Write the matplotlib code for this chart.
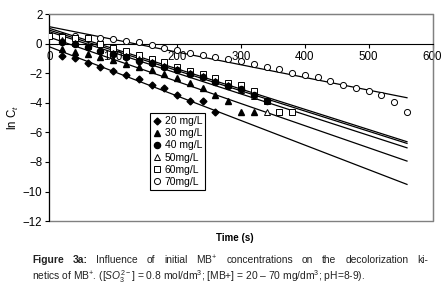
import matplotlib
matplotlib.use("Agg")
import matplotlib.pyplot as plt
import numpy as np
from matplotlib.patches import Rectangle

plt.rcParams['font.family'] = ['Liberation Sans', 'DejaVu Sans']
plt.rcParams['mathtext.fontset'] = 'custom'
plt.rcParams['mathtext.rm'] = 'Liberation Sans'
plt.rcParams['mathtext.it'] = 'Liberation Sans:italic'

# measured ln Ct vs time (s)
t20 = np.arange(20, 261, 20)
y20 = [-0.83, -0.98, -1.30, -1.57, -1.86, -2.11, -2.41, -2.79, -2.99, -3.47, -3.88, -3.88, -4.6]

t30 = np.arange(20, 321, 20)
y30 = [-0.38, -0.53, -0.69, -0.92, -1.10, -1.37, -1.59, -1.78, -2.05, -2.34, -2.68, -3.02,
       -3.47, -3.86, -4.6, -4.6]

t40 = np.arange(20, 341, 20)
y40 = [0.14, -0.04, -0.24, -0.47, -0.69, -0.92, -1.14, -1.32, -1.55, -1.78, -2.05, -2.27,
       -2.57, -2.86, -3.08, -3.47, -3.87]

t50 = np.arange(20, 341, 20)
y50 = [0.25, 0.05, -0.15, -0.40, -0.60, -0.85, -1.05, -1.25, -1.50, -1.70, -1.95, -2.20,
       -2.50, -2.80, -3.10, -3.50, -4.6]

t60 = np.arange(0, 381, 20)
y60 = [0.5, 0.45, 0.42, 0.42, 0.0, -0.28, -0.5, -0.75, -1.0, -1.25, -1.55, -1.82, -2.05,
       -2.34, -2.68, -2.79, -3.2, -3.87, -4.6, -4.6]

t70 = np.arange(0, 561, 20)
y70 = [0.53, 0.52, 0.5, 0.44, 0.42, 0.30, 0.21, 0.10, -0.08, -0.26, -0.42, -0.64, -0.76,
       -0.92, -1.05, -1.17, -1.37, -1.55, -1.71, -1.96, -2.11, -2.27, -2.50, -2.77, -2.97,
       -3.22, -3.49, -3.92, -4.6]

# linear fits (intercept, slope)
fit_b = [-0.20, 0.45, 0.82, 0.93, 1.05, 1.16]
fit_m = [-0.01664, -0.01498, -0.01404, -0.01370, -0.01371, -0.00859]

labels = ['20 mg/L', '30 mg/L', '40 mg/L', '50mg/L', '60mg/L', '70mg/L']

cap_bold = ['Figure', '3a:']
cap_words1 = ['Influence', 'of', 'initial', 'MB$^{+}$', 'concentrations', 'on', 'the',
              'decolorization', 'ki-']
cap_line2 = ('netics of MB$^{+}$. ([$\\mathit{SO_3^{2-}}$] = 0.8 mol/dm$^{3}$; [MB+] = 20 \u2013 70 '
             'mg/dm$^{3}$; pH=8-9).')

fig = plt.figure(figsize=(4.45, 2.92), dpi=100)
ax = fig.add_axes([0.111, 0.243, 0.861, 0.708])

tf = np.array([0, 560])
for b, m in zip(fit_b, fit_m):
    ax.plot(tf, b + m * tf, color='black', linewidth=0.9, zorder=2)

ms = 4.4
ax.plot(t70, y70, 'o', mfc='white', mec='black', mew=0.7, ms=ms, label=labels[5], zorder=3)
ax.plot(t60, y60, 's', mfc='white', mec='black', mew=0.7, ms=ms, label=labels[4], zorder=3)
ax.plot(t50, y50, '^', mfc='white', mec='black', mew=0.7, ms=ms, label=labels[3], zorder=3)
ax.plot(t40, y40, 'o', color='black', ms=ms, label=labels[2], zorder=4)
ax.plot(t30, y30, '^', color='black', ms=ms, label=labels[1], zorder=4)
ax.plot(t20, y20, 'D', color='black', ms=3.5, label=labels[0], zorder=4)

ax.set_xlim(0, 600)
ax.set_ylim(-12, 2)
ax.set_xticks(range(0, 601, 100))
ax.set_yticks(range(-12, 3, 2))
ax.tick_params(labelsize=8.3, length=3, width=0.8, pad=2)

ax.spines['bottom'].set_position(('data', 0))
ax.spines['top'].set_color('grey')
ax.spines['right'].set_color('grey')
ax.add_patch(Rectangle((0, 0), 1, 1, transform=ax.transAxes, fill=False,
                       edgecolor='grey', linewidth=1, zorder=0, clip_on=False))

ax.set_ylabel('ln C$_t$', fontsize=8.3, labelpad=1)
fig.text(0.527, 0.185, 'Time (s)', fontsize=7, weight='bold', ha='center', va='center')

handles, labs = ax.get_legend_handles_labels()
order = [5, 4, 3, 2, 1, 0]
leg = ax.legend([handles[i] for i in order], [labs[i] for i in order],
                loc='upper left', bbox_to_anchor=(0.263, 0.522), fontsize=7.5,
                frameon=True, fancybox=False, edgecolor='black', framealpha=1,
                handlelength=0.8, handletextpad=0.3, borderpad=0.3, labelspacing=0.2,
                borderaxespad=0)
leg.get_frame().set_linewidth(0.8)

# caption, first line justified
fs = 7.4
col = '#222222'
W = fig.bbox.width
cap_y1 = 1 - 260 / 292
cap_y2 = 1 - 277 / 292
x_left, x_right = 32, 428

renderer = fig.canvas.get_renderer()
items = [(w, 'bold') for w in cap_bold] + [(w, 'normal') for w in cap_words1]
texts = []
for w, wt in items:
    t = fig.text(0, cap_y1, w, fontsize=fs, weight=wt, va='center', color=col)
    texts.append(t)
widths = [t.get_window_extent(renderer=renderer).width for t in texts]
gap = (x_right - x_left - sum(widths)) / (len(texts) - 1)
x = x_left
for t, wd in zip(texts, widths):
    t.set_x(x / W)
    x += wd + gap

fig.text(x_left / W, cap_y2, cap_line2, fontsize=fs, va='center', color=col)

fig.savefig('out.png', dpi=100)
